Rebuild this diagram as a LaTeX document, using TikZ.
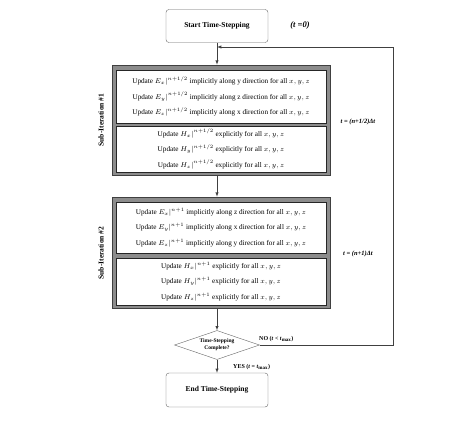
\documentclass[tikz,border=0pt]{standalone}
\usepackage{fontspec}
\setmainfont{Liberation Serif}
\usepackage{amsmath}
\usetikzlibrary{positioning}
\usetikzlibrary{arrows}
\usetikzlibrary{shapes.geometric}
\usetikzlibrary{math}

\tikzset{
  termbox/.style={draw=black!60, fill=white, rounded corners=3pt,
    minimum width=102pt, minimum height=33pt,
    font=\fontsize{7.5}{9}\selectfont\bfseries},
  iterbox/.style={draw=black!75, fill=black!45, line width=0.6pt,
    minimum width=218pt, inner sep=0pt},
  updbox/.style={draw=black!85, fill=white, minimum width=210pt,
    inner sep=0pt, align=center, font=\fontsize{7.2}{15.5}\selectfont},
  flow/.style={draw=black!75, line width=0.5pt},
  note/.style={font=\fontsize{6.5}{8}\selectfont\bfseries\itshape, inner sep=1pt},
}

% field value at a time level
\newcommand{\fld}[2]{$#1\rvert^{\scriptscriptstyle #2}$}

\begin{document}
\begin{tikzpicture}[x=1pt,y=-1pt]

  \useasboundingbox (0,0) rectangle (474,421);

  \tikzmath{
    \xc   = 217; % column of the flow
    \xs   = 221; % centre of the sub-iteration boxes
    \xret = 393; % return line on the right
  }

  % start and end
  \node[termbox] (start) at (\xc,26) {Start Time-Stepping};
  \node[note, font=\fontsize{8.5}{10}\selectfont\bfseries\itshape] (tzero) at (300,25) {(t =0)};

  % Sub-Iteration #1
  \node[iterbox, minimum height=110pt] (sub1) at (\xs,120) {};
  \node[updbox, minimum height=53pt] (sub1e) at (\xs,96.5)
    {Update \fld{E_x}{n+1/2} implicitly along y direction for all $x, y, z$\\
     Update \fld{E_y}{n+1/2} implicitly along z direction for all $x, y, z$\\
     Update \fld{E_z}{n+1/2} implicitly along x direction for all $x, y, z$};
  \node[updbox, minimum height=46pt] (sub1h) at (\xs,149)
    {Update \fld{H_x}{n+1/2} explicitly for all $x, y, z$\\
     Update \fld{H_y}{n+1/2} explicitly for all $x, y, z$\\
     Update \fld{H_z}{n+1/2} explicitly for all $x, y, z$};
  \node[rotate=90, font=\fontsize{7.5}{9}\selectfont\bfseries] (lab1) at (101,120) {Sub-Iteration \#1};

  % Sub-Iteration #2
  \node[iterbox, minimum height=111pt] (sub2) at (\xs,252.5) {};
  \node[updbox, minimum height=51pt] (sub2e) at (\xs,227.5)
    {Update \fld{E_x}{n+1} implicitly along z direction for all $x, y, z$\\
     Update \fld{E_y}{n+1} implicitly along x direction for all $x, y, z$\\
     Update \fld{E_z}{n+1} implicitly along y direction for all $x, y, z$};
  \node[updbox, minimum height=47pt] (sub2h) at (\xs,281.5)
    {Update \fld{H_x}{n+1} explicitly for all $x, y, z$\\
     Update \fld{H_y}{n+1} explicitly for all $x, y, z$\\
     Update \fld{H_z}{n+1} explicitly for all $x, y, z$};
  \node[rotate=90, font=\fontsize{7.5}{9}\selectfont\bfseries] (lab2) at (101,253) {Sub-Iteration \#2};

  % decision
  \node[diamond, draw=black!60, fill=white, aspect=2.9, inner sep=0pt,
    minimum width=85pt, minimum height=29pt, align=center,
    font=\fontsize{5.5}{7}\selectfont\bfseries] (done) at (\xc,345)
    {Time-Stepping\\Complete?};
  \node[termbox, minimum height=34pt] (stop) at (\xc,390) {End Time-Stepping};

  % flow arrows
  \draw[flow,-latex] (start.south) -- (start.south |- sub1.north);
  \draw[flow,-latex] (sub1.south -| start) -- (start |- sub2.north);
  \draw[flow,-latex] (sub2.south -| start) -- (done.north);
  \draw[flow,-latex] (done.south) -- (stop.north);

  % return path
  \coordinate (retlow)  at (\xret,345);
  \coordinate (rethigh) at (\xret,47);
  \coordinate (join)    at (\xc,47);
  \draw[flow,-latex] (done.east) -- (retlow) -- (rethigh) -- (join);

  % labels
  \node[note] (thalf) at (358,122) {t = (n+1/2)Δt};
  \node[note] (tfull) at (358,254) {t = (n+1)Δt};
  \node[note, font=\fontsize{6}{7}\selectfont\bfseries, anchor=west] (no) at (258,339)
    {NO (\textit{t} < \textit{t}\textsubscript{max})};
  \node[note, font=\fontsize{6}{7}\selectfont\bfseries, anchor=west] (yes) at (232,367)
    {YES (\textit{t} = \textit{t}\textsubscript{max})};

\end{tikzpicture}
\end{document}
